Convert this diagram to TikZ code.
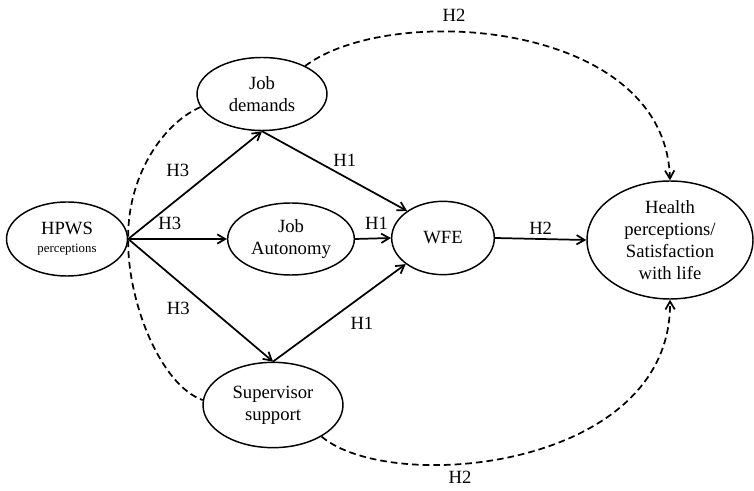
\documentclass[tikz,border=0pt]{standalone}
\usepackage{fontspec}
\setmainfont{Liberation Serif}
\usetikzlibrary{shapes.geometric, arrows.meta, positioning}

\tikzset{
    construct/.style={ellipse, draw, line width=1.1pt, inner sep=0pt, align=center,
        font=\fontsize{14}{16.5}\selectfont},
    path/.style={line width=1.3pt, -{Straight Barb[length=6pt, width=7pt]}},
    dpath/.style={line width=1.3pt, dash pattern=on 5pt off 3pt},
    hlabel/.style={font=\fontsize{14}{16}\selectfont, inner sep=1pt}
}

\begin{document}
\begin{tikzpicture}[x=0.75pt, y=-0.75pt]
    \useasboundingbox (0,0) rectangle (754,491);

    % Constructs
    \node[construct, minimum width=90.75pt, minimum height=55.5pt] (hpws) at (67,239)
        {HPWS\\[-3pt]{\fontsize{9.6}{11}\selectfont perceptions}};
    \node[construct, minimum width=97.5pt, minimum height=54.75pt] (jobdem) at (262,94) {Job\\demands};
    \node[construct, minimum width=95pt, minimum height=54pt] (jobaut) at (291,239) {Job\\Autonomy};
    \node[construct, minimum width=105pt, minimum height=64pt] (supsup) at (273,405) {Supervisor\\support};
    \node[construct, minimum width=77pt, minimum height=55pt] (wfe) at (443,238) {WFE};
    \node[construct, minimum width=124.5pt, minimum height=88.5pt] (health) at (670,240)
        {Health\\perceptions/\\Satisfaction\\with life};

    % H3 paths
    \draw[path] (hpws.east) -- (jobdem.south) node[hlabel, pos=0.37, above=15pt] {H3};
    \draw[path] (hpws.east) -- (jobaut.west) node[hlabel, pos=0.42, above=5pt] {H3};
    \draw[path] (hpws.east) -- (supsup.north) node[hlabel, pos=0.345, below=14pt] {H3};

    % H1 paths
    \draw[path] (jobdem.south) -- (wfe.143) node[hlabel, pos=0.57, above=6pt] {H1};
    \draw[path] (jobaut.east) -- (wfe.west) node[hlabel, pos=0.6, above=5pt] {H1};
    \draw[path] (supsup.north) -- (wfe.215) node[hlabel, pos=0.67, below=14pt] {H1};

    % H2 paths
    \draw[path] (wfe.east) -- (health.west) node[hlabel, midway, above=2pt] {H2};
    \draw[dpath, -{Straight Barb[length=6pt, width=7pt]}] (jobdem.33)
        .. controls (390,2) and (665,20) .. (health.north)
        node[hlabel, pos=0.37, above=6pt] {H2};
    \draw[dpath, -{Straight Barb[length=6pt, width=7pt]}] (supsup.-33)
        .. controls (390,495) and (672,470) .. (health.south)
        node[hlabel, pos=0.37, below=4pt] {H2};

    % dashed link between job demands and supervisor support
    \draw[dpath] (jobdem.192) .. controls (160,125) and (127,180) .. (hpws.east)
        .. controls (127,300) and (160,385) .. (supsup.176);
\end{tikzpicture}
\end{document}
